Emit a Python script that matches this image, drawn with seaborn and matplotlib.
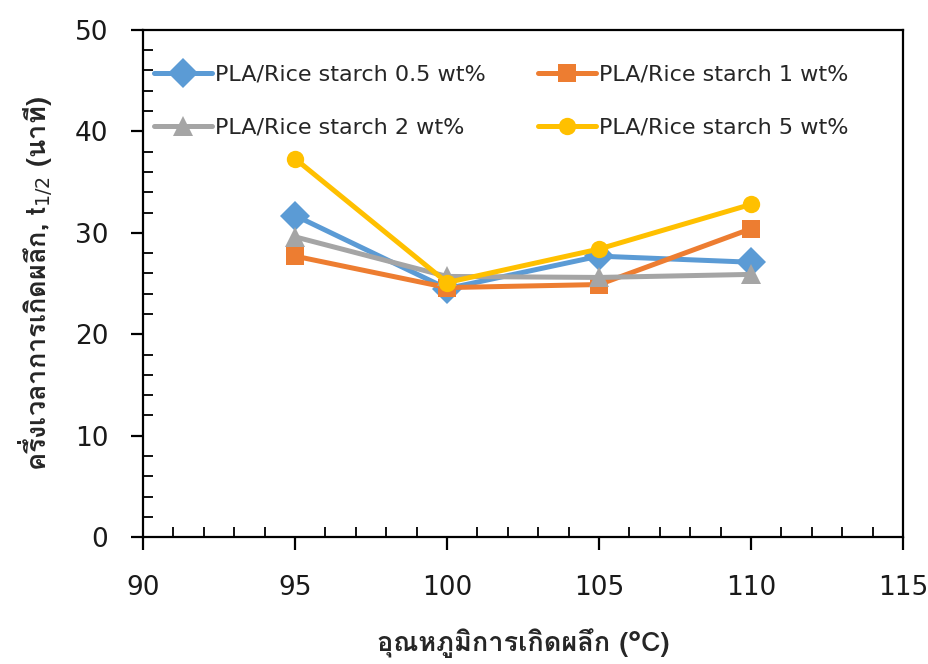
import matplotlib
matplotlib.use("Agg")
import matplotlib.pyplot as plt
from matplotlib import font_manager
from matplotlib.ticker import MultipleLocator
import pandas as pd
import seaborn as sns

# Crystallization temperature (°C) and half-time of crystallization (min)
temperatures = [95, 100, 105, 110]
series_names = ["PLA/Rice starch 0.5 wt%", "PLA/Rice starch 1 wt%",
                "PLA/Rice starch 2 wt%", "PLA/Rice starch 5 wt%"]
t_half_05 = [31.7, 24.5, 27.7, 27.1]
t_half_1 = [27.7, 24.6, 24.9, 30.4]
t_half_2 = [29.6, 25.7, 25.6, 25.9]
t_half_5 = [37.3, 25.1, 28.4, 32.8]

colors = ["#5B9BD5", "#ED7D31", "#A5A5A5", "#FFC000"]
markers = ["D", "s", "^", "o"]
marker_sizes = [15, 13, 15, 12.5]


def thai_family():
    """Return the name of an installed family that covers Thai script."""
    try:
        from fontTools.ttLib import TTFont
    except Exception:
        return None
    for entry in font_manager.fontManager.ttflist:
        try:
            tt = TTFont(entry.fname, fontNumber=0, lazy=True)
            cmap = tt.getBestCmap()
            if cmap and 0x0E01 in cmap and 0x0E36 in cmap:
                return entry.name
        except Exception:
            continue
    return None


sns.set_theme(style="white")
thai = thai_family()
families = ([thai] if thai else []) + ["DejaVu Sans"]
plt.rcParams["font.family"] = ["DejaVu Sans"]
plt.rcParams["mathtext.fontset"] = "dejavusans"

rows = []
for name, vals in zip(series_names, [t_half_05, t_half_1, t_half_2, t_half_5]):
    for t, v in zip(temperatures, vals):
        rows.append({"temp": t, "t_half": v, "series": name})
df = pd.DataFrame(rows)

fig = plt.figure(figsize=(9.29, 6.64), dpi=100)
ax = fig.add_axes([0.154, 0.191, 0.818, 0.764])

for name, col, mk, ms in zip(series_names, colors, markers, marker_sizes):
    sub = df[df["series"] == name]
    sns.lineplot(data=sub, x="temp", y="t_half", ax=ax, color=col, marker=mk,
                 markersize=ms, markeredgecolor=col, markeredgewidth=0,
                 linewidth=3.6, label=name, zorder=3)

ax.set_xlim(90, 115)
ax.set_ylim(0, 50)
ax.xaxis.set_major_locator(MultipleLocator(5))
ax.xaxis.set_minor_locator(MultipleLocator(1))
ax.yaxis.set_major_locator(MultipleLocator(10))
ax.yaxis.set_minor_locator(MultipleLocator(2))

for sp in ax.spines.values():
    sp.set_visible(True)
    sp.set_color("black")
    sp.set_linewidth(1.6)

ax.tick_params(which="major", direction="out", length=9, width=1.6,
               color="black", bottom=True, left=True)
ax.tick_params(which="minor", direction="in", length=7, width=1.3,
               color="black", bottom=True, left=True)
ax.tick_params(axis="x", which="major", labelsize=19, pad=18, labelcolor="#1a1a1a")
ax.tick_params(axis="y", which="major", labelsize=19, pad=16, labelcolor="#1a1a1a")

ax.set_xlabel("อุณหภูมิการเกิดผลึก (°C)", fontsize=19.5, fontweight="bold",
              family=families, labelpad=20)
ax.set_ylabel("ครึ่งเวลาการเกิดผลึก, t$_{1/2}$ (นาที)", fontsize=19.5,
              fontweight="bold", family=families, labelpad=14)

handles, labels = ax.get_legend_handles_labels()
order = [0, 2, 1, 3]
leg = ax.legend([handles[i] for i in order], [labels[i] for i in order],
                ncol=2, loc="upper left", bbox_to_anchor=(-0.003, 0.958),
                frameon=False, fontsize=16, handlelength=2.6,
                handletextpad=0.15, columnspacing=2.35, labelspacing=1.5,
                borderaxespad=0.2)

fig.savefig("out.png", dpi=100)
